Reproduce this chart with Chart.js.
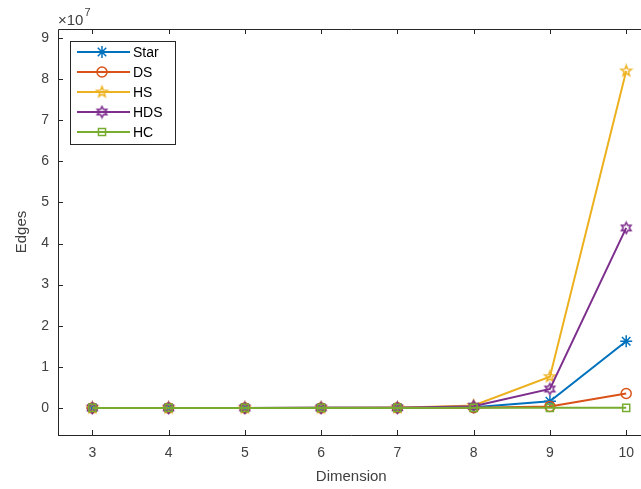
<!DOCTYPE html>
<html>
<head>
<meta charset="utf-8">
<script src="https://cdn.jsdelivr.net/npm/chart.js@4/dist/chart.umd.min.js"></script>
<style>
  html, body { margin: 0; padding: 0; background: #fff; overflow: hidden; }
  canvas { display: block; }
</style>
</head>
<body>
<canvas id="edgesChart" width="652" height="489"></canvas>
<script>
// values (edges, raw units)
const dimensions = [3, 4, 5, 6, 7, 8, 9, 10];
const starEdges = [6, 36, 240, 1800, 15120, 141120, 1600000, 16200000];
const dsEdges   = [6, 24, 120, 720, 5040, 40320, 360000, 3500000];
const hsEdges   = [9, 72, 600, 5400, 53000, 600000, 7600000, 82000000];
const hdsEdges  = [8, 60, 480, 4300, 40000, 420000, 4600000, 43800000];
const hcEdges   = [12, 32, 80, 192, 448, 1024, 2304, 5120];
const yTicks = [0, 1, 2, 3, 4, 5, 6, 7, 8, 9];
const yScaleExp = 1e7;

const TEXT = '#404040';
const AXIS = '#262626';
const FONT = '"Liberation Sans", Arial, sans-serif';

// MATLAB-like pentagram / hexagram markers
function starMarker(points, color, outer, inner) {
  const size = Math.ceil(outer * 2 + 4);
  const c = document.createElement('canvas');
  c.width = size; c.height = size;
  const g = c.getContext('2d');
  g.translate(size / 2, size / 2);
  g.beginPath();
  for (let i = 0; i < points * 2; i++) {
    const r = i % 2 === 0 ? outer : inner;
    const a = -Math.PI / 2 + i * Math.PI / points;
    const px = r * Math.cos(a), py = r * Math.sin(a);
    if (i === 0) g.moveTo(px, py); else g.lineTo(px, py);
  }
  g.closePath();
  g.strokeStyle = color;
  g.lineWidth = 1.5;
  g.stroke();
  return c;
}

const series = [
  { label: 'Star', values: starEdges, color: '#0072BD', marker: 'star', radius: 6 },
  { label: 'DS',   values: dsEdges,   color: '#D95319', marker: 'circle', radius: 5 },
  { label: 'HS',   values: hsEdges,   color: '#EDB120', marker: starMarker(5, '#EDB120', 5.5, 2.3), radius: 6 },
  { label: 'HDS',  values: hdsEdges,  color: '#7E2F8E', marker: starMarker(6, '#7E2F8E', 5.5, 3), radius: 6 },
  { label: 'HC',   values: hcEdges,   color: '#77AC30', marker: 'rect', radius: 5 }
];

const datasets = series.map((s, i) => ({
  label: s.label,
  data: dimensions.map((d, j) => ({ x: d, y: s.values[j] })),
  borderColor: s.color,
  backgroundColor: 'rgba(0,0,0,0)',
  borderWidth: 2,
  pointStyle: s.marker,
  pointRadius: s.radius,
  pointBorderWidth: 1.5,
  pointBorderColor: s.color,
  pointBackgroundColor: 'rgba(0,0,0,0)',
  order: series.length - i   // last series drawn on top, like MATLAB
}));

// box, inward ticks, exponent and legend in MATLAB style
const matlabFrame = {
  id: 'matlabFrame',
  afterDraw(chart) {
    const { ctx, chartArea: a, scales: { x, y } } = chart;
    ctx.save();
    ctx.strokeStyle = AXIS;
    ctx.lineWidth = 1;
    ctx.beginPath();
    ctx.moveTo(a.left + 0.5, a.bottom + 0.5);
    ctx.lineTo(a.left + 0.5, a.top + 0.5);
    ctx.lineTo(a.right, a.top + 0.5);
    ctx.moveTo(a.left, a.bottom + 0.5);
    ctx.lineTo(a.right, a.bottom + 0.5);
    dimensions.forEach(d => {
      const px = Math.round(x.getPixelForValue(d)) + 0.5;
      ctx.moveTo(px, a.bottom); ctx.lineTo(px, a.bottom - 5);
      ctx.moveTo(px, a.top); ctx.lineTo(px, a.top + 5);
    });
    yTicks.forEach(t => {
      const py = Math.round(y.getPixelForValue(t * yScaleExp)) + 0.5;
      ctx.moveTo(a.left, py); ctx.lineTo(a.left + 5, py);
    });
    ctx.stroke();

    // x10^7
    ctx.fillStyle = TEXT;
    ctx.textBaseline = 'alphabetic';
    ctx.textAlign = 'left';
    ctx.font = '15px ' + FONT;
    ctx.fillText('\u00d710', a.left, 25);
    const w = ctx.measureText('\u00d710').width;
    ctx.font = '11px ' + FONT;
    ctx.fillText('7', a.left + w + 1, 16);

    // legend
    const box = { x: 70, y: 41, w: 105, h: 103 };
    ctx.fillStyle = '#fff';
    ctx.fillRect(box.x, box.y, box.w, box.h);
    ctx.strokeStyle = AXIS;
    ctx.lineWidth = 1;
    ctx.strokeRect(box.x + 0.5, box.y + 0.5, box.w, box.h);
    ctx.font = '14px ' + FONT;
    ctx.textBaseline = 'middle';
    chart.data.datasets.forEach((ds, i) => {
      const ly = 52 + i * 20;
      ctx.strokeStyle = ds.borderColor;
      ctx.lineWidth = 2;
      ctx.beginPath();
      ctx.moveTo(77, ly); ctx.lineTo(130, ly);
      ctx.stroke();
      ctx.lineWidth = 1.5;
      ctx.fillStyle = 'rgba(0,0,0,0)';
      Chart.helpers.drawPoint(ctx, {
        pointStyle: ds.pointStyle, radius: ds.pointRadius, rotation: 0, borderWidth: 1.5
      }, 102, ly);
      ctx.fillStyle = '#000';
      ctx.fillText(ds.label, 133, ly + 1);
    });
    ctx.restore();
  }
};

new Chart(document.getElementById('edgesChart'), {
  type: 'line',
  data: { datasets },
  options: {
    responsive: false,
    animation: false,
    layout: { padding: { top: 29, left: 0, right: 0, bottom: 0 } },
    plugins: { legend: { display: false }, tooltip: { enabled: false } },
    scales: {
      x: {
        type: 'linear',
        min: 2.55,
        max: 10.24,
        afterBuildTicks: s => { s.ticks = dimensions.map(v => ({ value: v })); },
        afterFit: s => { s.height = 54; },
        grid: { display: false, drawTicks: false },
        border: { display: false },
        ticks: { color: TEXT, font: { family: FONT, size: 14 }, padding: 10, maxRotation: 0, autoSkip: false },
        title: { display: true, text: 'Dimension', color: TEXT, font: { family: FONT, size: 15 }, padding: { top: 0, bottom: 3 } }
      },
      y: {
        min: -0.66e7,
        max: 9.22e7,
        afterBuildTicks: s => { s.ticks = yTicks.map(v => ({ value: v * yScaleExp })); },
        afterFit: s => { s.width = 58; },
        grid: { display: false, drawTicks: false },
        border: { display: false },
        ticks: { color: TEXT, font: { family: FONT, size: 14 }, padding: 9, callback: v => v / yScaleExp },
        title: { display: true, text: 'Edges', color: TEXT, font: { family: FONT, size: 15 }, padding: { top: 13, bottom: 0 } }
      }
    }
  },
  plugins: [matlabFrame]
});
</script>
</body>
</html>
